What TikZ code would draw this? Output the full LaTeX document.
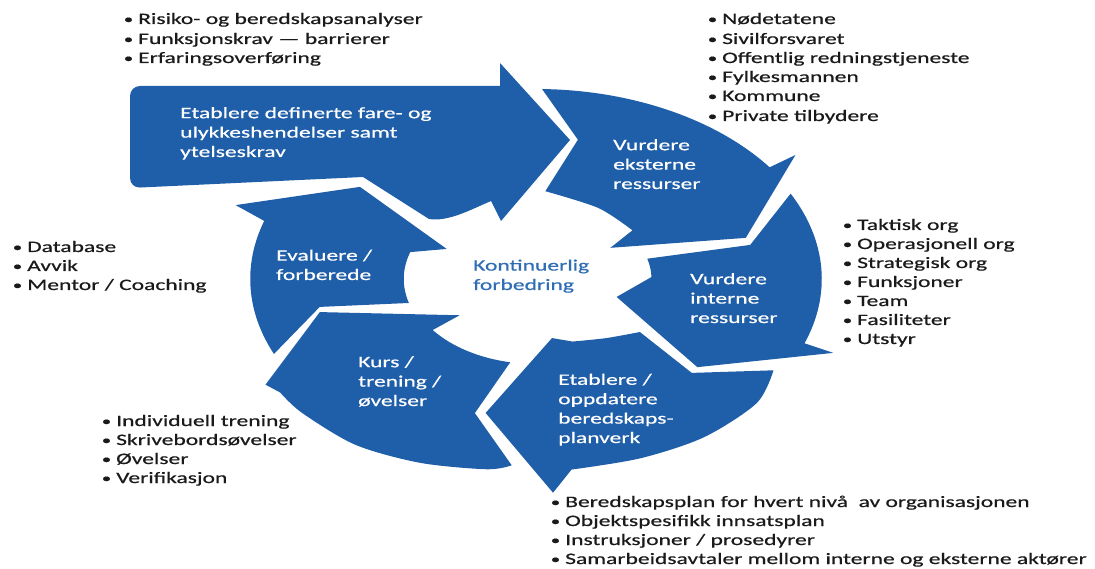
\documentclass[tikz,border=0pt]{standalone}
\usepackage{fontspec}
\setmainfont{Carlito}[FakeStretch=1.48, FakeBold=0.6]
\definecolor{arrowblue}{HTML}{1F5EA8}
\definecolor{midblue}{HTML}{2F6DB5}
\definecolor{txt}{HTML}{1A1A1A}
\newcommand{\bl}{\llap{\raisebox{0.6pt}{\scalebox{0.8}{\textbullet}}\hspace{5pt}}}
\begin{document}
\begin{tikzpicture}[x=1pt,y=-1pt,
  arrowfill/.style={fill=arrowblue},
  item/.style={anchor=base west, inner sep=0pt, text=txt, font=\fontsize{15.9}{19.4}\selectfont},
  intext/.style={anchor=base west, inner sep=0pt, text=white, font=\fontsize{15.9}{19.4}\selectfont, align=left},
  centertext/.style={anchor=base west, inner sep=0pt, text=midblue, font=\fontsize{15.9}{19.4}\selectfont, align=left}]
\useasboundingbox (0,0) rectangle (1095,569);

% top straight arrow
\fill[arrowfill] (300,86) -- (500,86) -- (500,63) -- (570,140) -- (501,221) -- (491,201)
  .. controls (470,210) and (448,222) .. (429,219) -- (363,177)
  [rounded corners=10] -- (130,188) -- (130,86) -- cycle;

\begin{scope}[shift={(536,279)}, xscale=1.52, yscale=-1]
% Vurdere eksterne
\fill[arrowfill] (88.8:190) arc[start angle=88.8, end angle=36, radius=190]
  -- (36:211) -- (16.6:144) -- (32.5:58) -- (37.5:80)
  -- plot[smooth] coordinates {(37.5:80) (60:82) (86:88)}
  -- (78.8:142) -- cycle;
% Vurdere interne
\fill[arrowfill] (27:188) arc[start angle=27, end angle=-20, radius=188]
  -- (-20.7:209) -- (-39.7:138) -- (-18.7:56) -- (1.5:76)
  arc[start angle=1.5, end angle=15.5, radius=76] -- (13.6:145) -- cycle;
% Etablere / oppdatere
\fill[arrowfill] (329.7:181)
  -- plot[smooth] coordinates {(329.7:181) (319.5:191) (305:193) (291:192) (277:192)}
  -- (273:214) -- (256.1:138) -- (280.1:60)
  -- plot[smooth] coordinates {(291:67) (308:75) (322.2:86.5)}
  -- (317.5:139) -- cycle;
% Kurs
\fill[arrowfill] (265.1:187)
  -- plot[smooth] coordinates {(265.1:187) (260.4:193) (247.5:199) (234.4:204) (221:204) (214:203)}
  -- (210.7:207) -- (193.1:146) -- (215.8:62) -- (216.9:85)
  arc[start angle=216.9, end angle=258.5, radius=85] -- (253.3:140) -- cycle;
% Evaluere
\fill[arrowfill] (203.5:188) arc[start angle=203.5, end angle=162, radius=188]
  -- (159.5:211) -- (141.5:148) -- (152.9:66) -- (162:87)
  arc[start angle=162, end angle=196, radius=87] -- (191.1:145) -- cycle;
\end{scope}

% texts in arrows (anchor = baseline of last line)
\node[intext] (t1) at (180,157) {Etablere definerte fare- og\\ulykkeshendelser samt\\ytelseskrav};
\node[intext] (t2) at (613,189) {Vurdere\\eksterne\\ressurser};
\node[intext] (t3) at (690,323) {Vurdere\\interne\\ressurser};
\node[intext] (t4) at (558,443) {Etablere /\\oppdatere\\beredskaps-\\planverk};
\node[intext] (t5) at (358,406) {Kurs /\\trening /\\øvelser};
\node[intext] (t6) at (276,280) {Evaluere /\\forberede};
\node[centertext] (c) at (473,290) {Kontinuerlig\\forbedring};

% bullet lists
\node[item] (a1) at (138,24) {\bl Risiko- og beredskapsanalyser};
\node[item] (a2) at (138,44) {\bl Funksjonskrav — barrierer};
\node[item] (a3) at (138,63) {\bl Erfaringsoverføring};

\node[item] (b1) at (722,24) {\bl Nødetatene};
\node[item] (b2) at (722,44) {\bl Sivilforsvaret};
\node[item] (b3) at (722,63) {\bl Offentlig redningstjeneste};
\node[item] (b4) at (722,82) {\bl Fylkesmannen};
\node[item] (b5) at (722,101) {\bl Kommune};
\node[item] (b6) at (722,121) {\bl Private tilbydere};

\node[item] (r1) at (857,230) {\bl Taktisk org};
\node[item] (r2) at (857,249) {\bl Operasjonell org};
\node[item] (r3) at (857,268) {\bl Strategisk org};
\node[item] (r4) at (857,287) {\bl Funksjoner};
\node[item] (r5) at (857,306) {\bl Team};
\node[item] (r6) at (857,325) {\bl Fasiliteter};
\node[item] (r7) at (857,344) {\bl Utstyr};

\node[item] (l1) at (27,252) {\bl Database};
\node[item] (l2) at (27,271) {\bl Avvik};
\node[item] (l3) at (27,290) {\bl Mentor / Coaching};

\node[item] (d1) at (116,426) {\bl Individuell trening};
\node[item] (d2) at (116,445) {\bl Skrivebordsøvelser};
\node[item] (d3) at (116,464) {\bl Øvelser};
\node[item] (d4) at (116,483) {\bl Verifikasjon};

\node[item] (e1) at (565,507) {\bl Beredskapsplan for hvert nivå\ \ av organisasjonen};
\node[item] (e2) at (565,526) {\bl Objektspesifikk innsatsplan};
\node[item] (e3) at (565,545) {\bl Instruksjoner / prosedyrer};
\node[item] (e4) at (565,564) {\bl Samarbeidsavtaler mellom interne og eksterne aktører};
\end{tikzpicture}
\end{document}
